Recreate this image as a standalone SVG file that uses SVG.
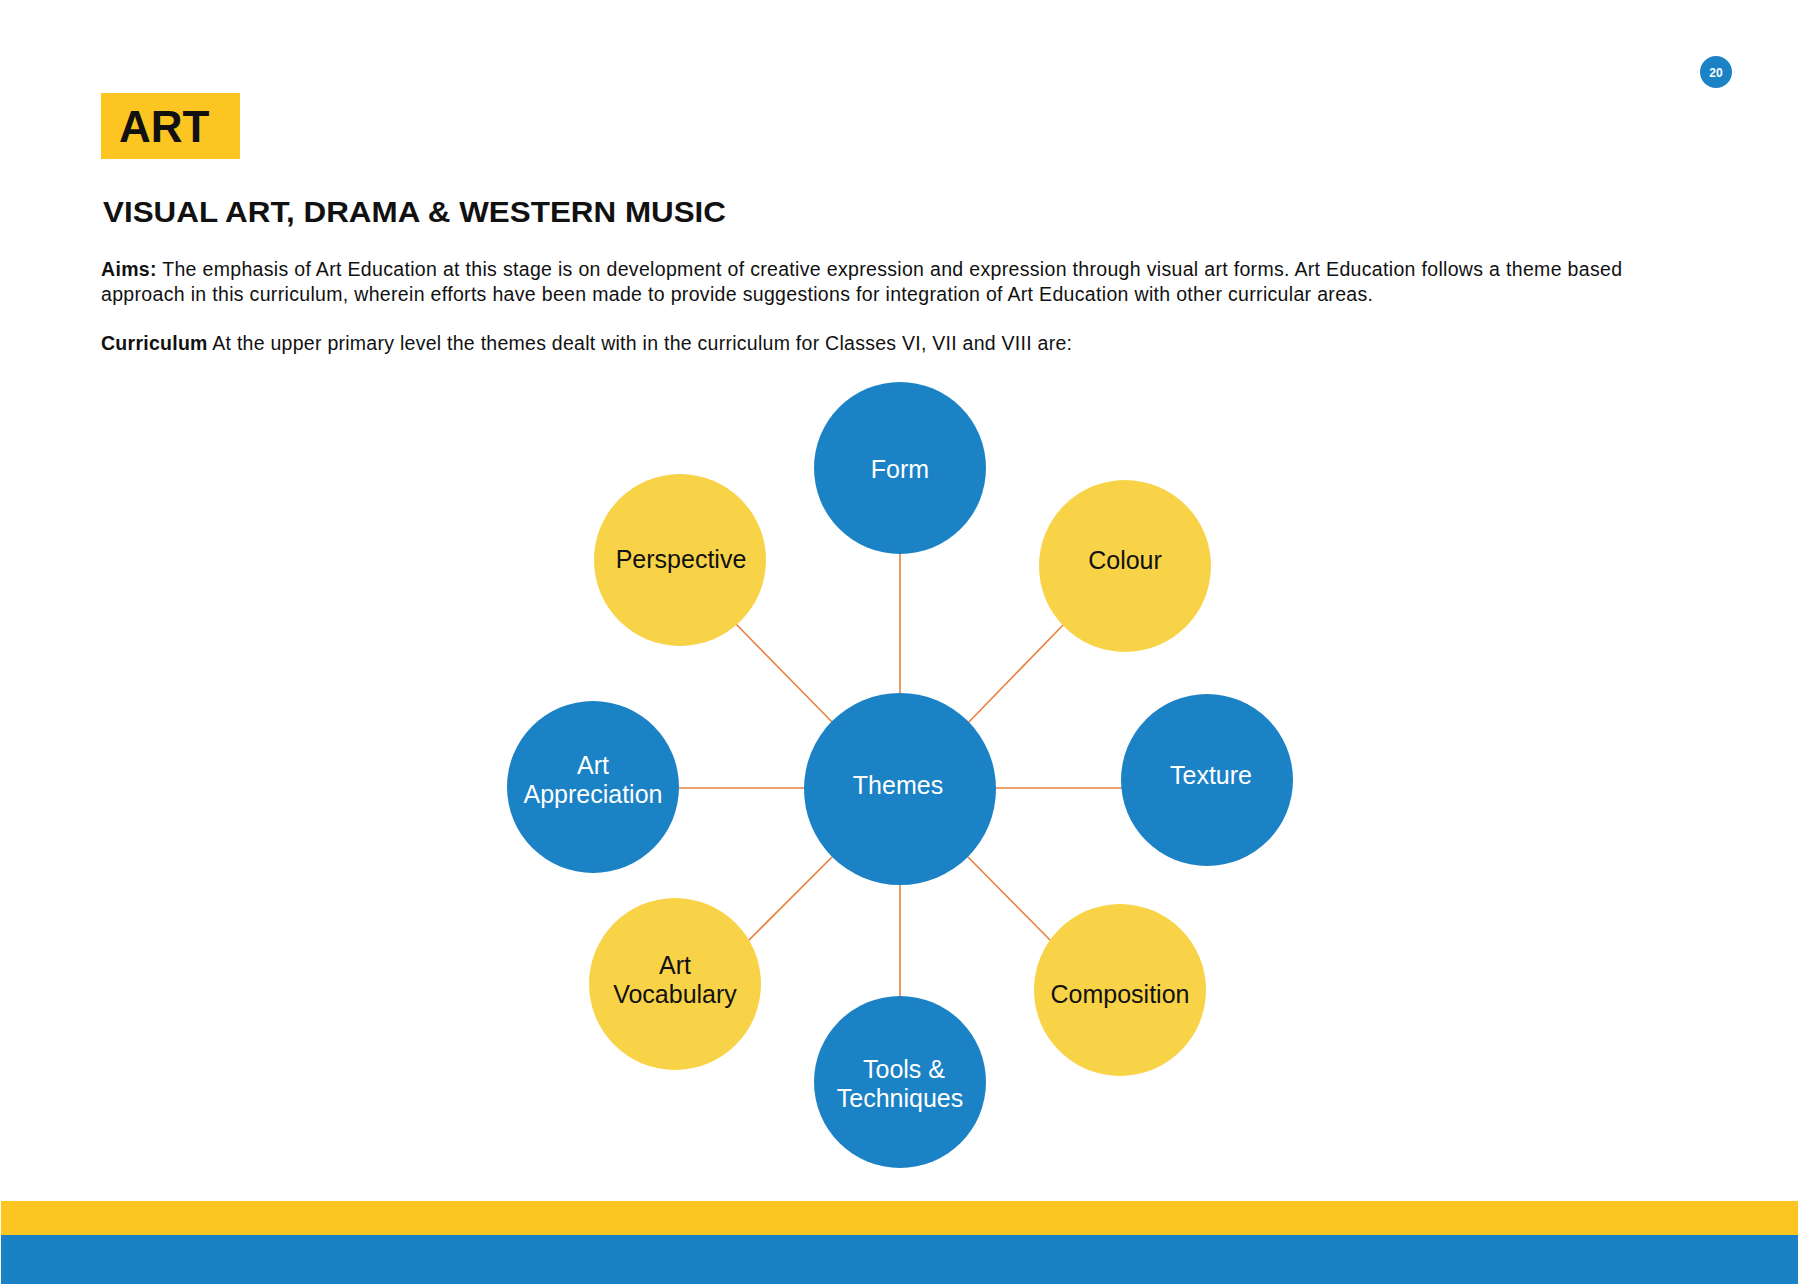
<svg xmlns="http://www.w3.org/2000/svg" width="1801" height="1288" viewBox="0 0 1801 1288">
  <style>
    .blue { fill: #1B82C5; }
    .yellow { fill: #F9D347; }
    .conn { stroke: #E9803E; stroke-width: 1.6; fill: none; }
    .lbl { font-family: "Liberation Sans", Arial, sans-serif; font-size: 25px; text-anchor: middle; }
    .w { fill: #FFFFFF; }
    .k { fill: #111111; }
    .body { font-family: "Liberation Sans", Arial, sans-serif; font-size: 19.5px; fill: #111111; }
  </style>
  <rect x="0" y="0" width="1801" height="1288" fill="#FFFFFF"/>

  <!-- header -->
  <rect x="101" y="93" width="139" height="66" fill="#FDC521"/>
  <text x="119" y="142" font-family="Liberation Sans, Arial, sans-serif" font-size="44" font-weight="bold" fill="#111111">ART</text>
  <text x="103" y="222" font-family="Liberation Sans, Arial, sans-serif" font-size="29.5" font-weight="bold" fill="#111111" textLength="623" lengthAdjust="spacingAndGlyphs">VISUAL ART, DRAMA &amp; WESTERN MUSIC</text>

  <text class="body" x="101" y="276" textLength="1521"><tspan font-weight="bold">Aims:</tspan> The emphasis of Art Education at this stage is on development of creative expression and expression through visual art forms. Art Education follows a theme based</text>
  <text class="body" x="101" y="301" textLength="1272">approach in this curriculum, wherein efforts have been made to provide suggestions for integration of Art Education with other curricular areas.</text>
  <text class="body" x="101" y="350" textLength="971"><tspan font-weight="bold">Curriculum</tspan> At the upper primary level the themes dealt with in the curriculum for Classes VI, VII and VIII are:</text>

  <!-- page number -->
  <g id="page-number">
    <circle cx="1716" cy="72" r="16" class="blue"/>
    <text x="1716" y="76.5" font-family="Liberation Sans, Arial, sans-serif" font-size="12" font-weight="bold" fill="#FFFFFF" text-anchor="middle">20</text>
  </g>

  <!-- connectors -->
  <g id="connectors">
    <line class="conn" x1="900" y1="550" x2="900" y2="697"/>
    <line class="conn" x1="1066" y1="622" x2="967" y2="724"/>
    <line class="conn" x1="994" y1="788" x2="1125" y2="788"/>
    <line class="conn" x1="968" y1="857" x2="1053" y2="943"/>
    <line class="conn" x1="900" y1="881" x2="900" y2="1000"/>
    <line class="conn" x1="832" y1="857" x2="746" y2="943"/>
    <line class="conn" x1="675" y1="788" x2="808" y2="788"/>
    <line class="conn" x1="733" y1="621" x2="834" y2="724"/>
  </g>

  <!-- nodes -->
  <g id="node-form">
    <circle cx="900" cy="468" r="86" class="blue"/>
    <text x="900" y="478" class="lbl w">Form</text>
  </g>
  <g id="node-perspective">
    <circle cx="680" cy="560" r="86" class="yellow"/>
    <text x="681" y="568" class="lbl k">Perspective</text>
  </g>
  <g id="node-colour">
    <circle cx="1125" cy="566" r="86" class="yellow"/>
    <text x="1125" y="569" class="lbl k">Colour</text>
  </g>
  <g id="node-art-appreciation">
    <circle cx="593" cy="787" r="86" class="blue"/>
    <text x="593" y="774" class="lbl w">Art</text>
    <text x="593" y="803" class="lbl w">Appreciation</text>
  </g>
  <g id="node-themes">
    <circle cx="900" cy="789" r="96" class="blue"/>
    <text x="898" y="794" class="lbl w">Themes</text>
  </g>
  <g id="node-texture">
    <circle cx="1207" cy="780" r="86" class="blue"/>
    <text x="1211" y="784" class="lbl w">Texture</text>
  </g>
  <g id="node-art-vocabulary">
    <circle cx="675" cy="984" r="86" class="yellow"/>
    <text x="675" y="974" class="lbl k">Art</text>
    <text x="675" y="1003" class="lbl k">Vocabulary</text>
  </g>
  <g id="node-composition">
    <circle cx="1120" cy="990" r="86" class="yellow"/>
    <text x="1120" y="1003" class="lbl k">Composition</text>
  </g>
  <g id="node-tools">
    <circle cx="900" cy="1082" r="86" class="blue"/>
    <text x="904" y="1078" class="lbl w">Tools &amp;</text>
    <text x="900" y="1107" class="lbl w">Techniques</text>
  </g>

  <!-- footer bars -->
  <rect x="1" y="1201" width="1797" height="34" fill="#FDC521"/>
  <rect x="1" y="1235" width="1797" height="49" fill="#1A82C4"/>
</svg>
